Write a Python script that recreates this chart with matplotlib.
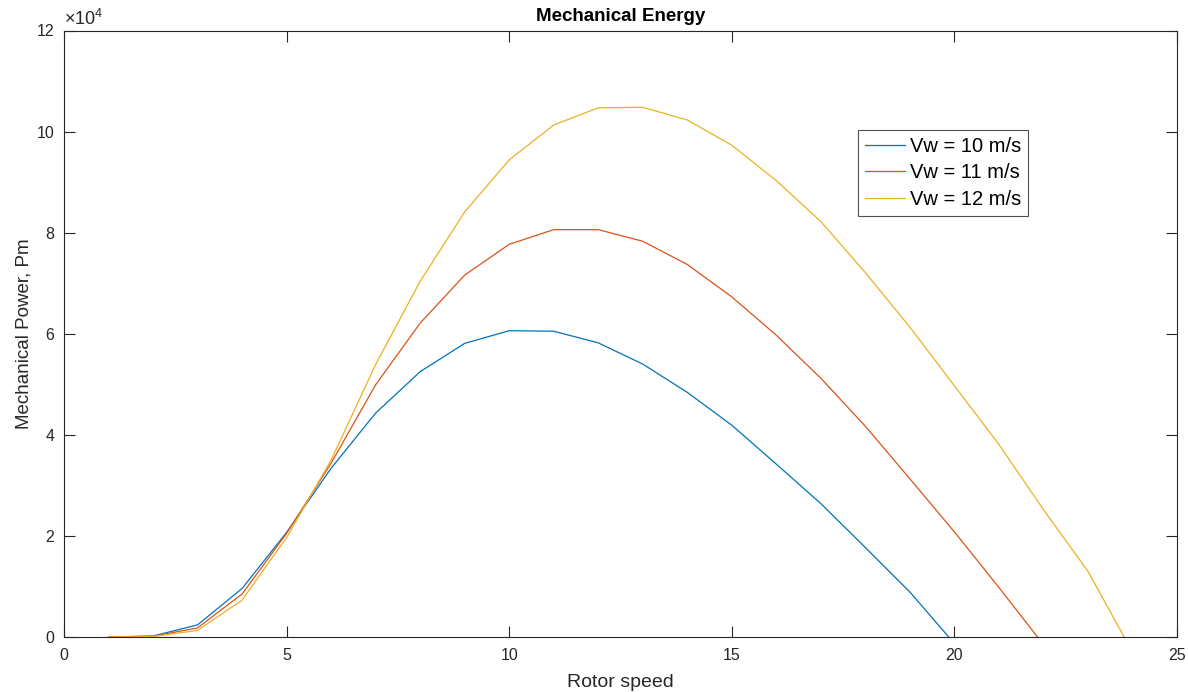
import matplotlib
matplotlib.use("Agg")
import matplotlib.pyplot as plt
from matplotlib.ticker import FuncFormatter

plt.rcParams['font.family'] = ['Liberation Sans', 'DejaVu Sans']
plt.rcParams['mathtext.fontset'] = 'custom'
plt.rcParams['mathtext.rm'] = 'Liberation Sans'

# Rotor speed samples
rotor_speed_10 = list(range(1, 21))
rotor_speed_11 = list(range(1, 23))
rotor_speed_12 = list(range(1, 25))

# Mechanical power (W)
power_vw10 = [0, 200, 2400, 9600, 20700, 33400, 44300, 52500, 58100, 60600,
              60500, 58200, 54000, 48400, 41900, 34200, 26400, 17700, 8900, -1300]
power_vw11 = [0, 150, 1800, 8500, 20500, 34400, 49900, 62100, 71600, 77700,
              80600, 80600, 78300, 73700, 67300, 59700, 51200, 41700, 31300, 20800,
              9800, -1500]
power_vw12 = [0, 100, 1300, 7300, 19700, 35000, 53900, 70400, 84100, 94400,
              101300, 104700, 104800, 102300, 97300, 90300, 82200, 72100, 61300, 49700,
              38100, 25200, 13000, -3000]

series_labels = ['Vw = 10 m/s', 'Vw = 11 m/s', 'Vw = 12 m/s']
colors = ['#0072BD', '#D95319', '#EDB120']

fig = plt.figure(figsize=(11.88, 6.92), dpi=100)
ax = fig.add_axes([64/1188, 1 - 637/692, (1177-64)/1188, (637-30.5)/692])

ax.plot(rotor_speed_10, power_vw10, color=colors[0], lw=0.9, label=series_labels[0])
ax.plot(rotor_speed_11, power_vw11, color=colors[1], lw=0.9, label=series_labels[1])
ax.plot(rotor_speed_12, power_vw12, color=colors[2], lw=0.9, label=series_labels[2])

ax.set_xlim(0, 25)
ax.set_ylim(0, 120000)
ax.set_xticks([0, 5, 10, 15, 20, 25])
ax.set_yticks([0, 20000, 40000, 60000, 80000, 100000, 120000])
ax.yaxis.set_major_formatter(FuncFormatter(lambda v, p: f"{v/1e4:g}"))

axcol = '#262626'
for s in ax.spines.values():
    s.set_color(axcol)
    s.set_linewidth(0.8)
ax.tick_params(direction='in', length=8, width=0.8, colors=axcol, labelsize=11.5,
               top=True, right=True)
ax.tick_params(axis='x', pad=8)
ax.tick_params(axis='y', pad=7)

ax.text(0.0, 1.003, r'$\times10^{4}$', transform=ax.transAxes, fontsize=13,
        color=axcol, ha='left', va='bottom')

ax.set_title('Mechanical Energy', fontsize=13.5, fontweight='bold', color='black', pad=7)
ax.set_xlabel('Rotor speed', fontsize=14, color=axcol, labelpad=8)
ax.set_ylabel('Mechanical Power, Pm', fontsize=13.5, color=axcol, labelpad=3)

leg = ax.legend(loc='upper left', bbox_to_anchor=(0.7134, 0.836), fontsize=14.5,
                frameon=True, fancybox=False, edgecolor=axcol, handlelength=2.0,
                handletextpad=0.25, borderpad=0.33, labelspacing=0.38, borderaxespad=0)
leg.get_frame().set_linewidth(0.8)

fig.savefig('out.png', dpi=100)
